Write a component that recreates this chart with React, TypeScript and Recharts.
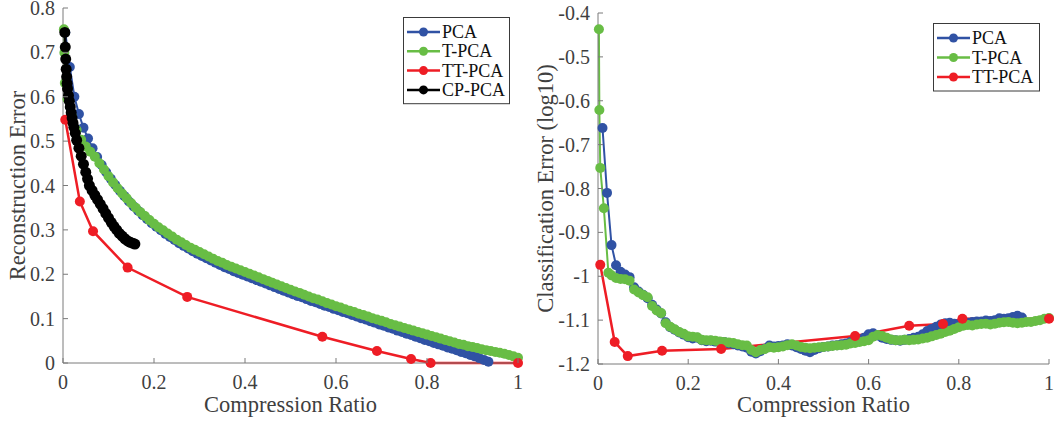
import React from 'react';
import { LineChart, Line, XAxis, YAxis } from 'recharts';

// ---------------- data: left panel (Reconstruction Error) ----------------
const pcaRatioL = [
  0.005, 0.015, 0.025, 0.035, 0.045, 0.055, 0.065, 0.075, 0.085, 0.095,
  0.105, 0.115, 0.125, 0.135, 0.145, 0.155, 0.165, 0.175, 0.185, 0.195,
  0.205, 0.215, 0.225, 0.235, 0.245, 0.255, 0.265, 0.275, 0.285, 0.295,
  0.305, 0.315, 0.325, 0.335, 0.345, 0.355, 0.365, 0.375, 0.385, 0.395,
  0.405, 0.415, 0.425, 0.435, 0.445, 0.455, 0.465, 0.475, 0.485, 0.495,
  0.505, 0.515, 0.525, 0.535, 0.545, 0.555, 0.565, 0.575, 0.585, 0.595,
  0.605, 0.615, 0.625, 0.635, 0.645, 0.655, 0.665, 0.675, 0.685, 0.695,
  0.705, 0.715, 0.725, 0.735, 0.745, 0.755, 0.765, 0.775, 0.785, 0.795,
  0.805, 0.815, 0.825, 0.835, 0.845, 0.855, 0.865, 0.875, 0.885, 0.895,
  0.905, 0.915, 0.925, 0.935,
];
const pcaErrL = [
  0.745, 0.667, 0.600, 0.561, 0.530, 0.506, 0.484, 0.464, 0.446, 0.430,
  0.415, 0.401, 0.388, 0.376, 0.364, 0.353, 0.343, 0.333, 0.324, 0.315,
  0.307, 0.299, 0.291, 0.284, 0.277, 0.270, 0.264, 0.258, 0.252, 0.246,
  0.241, 0.236, 0.231, 0.226, 0.221, 0.216, 0.212, 0.207, 0.203, 0.199,
  0.195, 0.191, 0.187, 0.183, 0.179, 0.175, 0.171, 0.167, 0.163, 0.159,
  0.155, 0.151, 0.148, 0.144, 0.140, 0.137, 0.133, 0.129, 0.126, 0.122,
  0.119, 0.115, 0.112, 0.108, 0.105, 0.101, 0.098, 0.094, 0.091, 0.087,
  0.084, 0.080, 0.077, 0.073, 0.070, 0.066, 0.063, 0.059, 0.056, 0.052,
  0.049, 0.045, 0.042, 0.039, 0.035, 0.032, 0.029, 0.025, 0.022, 0.018,
  0.015, 0.011, 0.007, 0.003,
];

const tpcaRatioL = [
  0.002, 0.003, 0.004,
  0.01, 0.02, 0.03, 0.04, 0.05, 0.06, 0.07, 0.08, 0.09, 0.10,
  0.11, 0.12, 0.13, 0.14, 0.15, 0.16, 0.17, 0.18, 0.19, 0.20,
  0.21, 0.22, 0.23, 0.24, 0.25, 0.26, 0.27, 0.28, 0.29, 0.30,
  0.31, 0.32, 0.33, 0.34, 0.35, 0.36, 0.37, 0.38, 0.39, 0.40,
  0.41, 0.42, 0.43, 0.44, 0.45, 0.46, 0.47, 0.48, 0.49, 0.50,
  0.51, 0.52, 0.53, 0.54, 0.55, 0.56, 0.57, 0.58, 0.59, 0.60,
  0.61, 0.62, 0.63, 0.64, 0.65, 0.66, 0.67, 0.68, 0.69, 0.70,
  0.71, 0.72, 0.73, 0.74, 0.75, 0.76, 0.77, 0.78, 0.79, 0.80,
  0.81, 0.82, 0.83, 0.84, 0.85, 0.86, 0.87, 0.88, 0.89, 0.90,
  0.91, 0.92, 0.93, 0.94, 0.95, 0.96, 0.97, 0.98, 0.99, 1.00,
];
const tpcaErrL = [
  0.752, 0.699, 0.631,
  0.595, 0.555, 0.525, 0.503, 0.488, 0.476, 0.465, 0.450, 0.436, 0.421,
  0.407, 0.394, 0.382, 0.371, 0.360, 0.350, 0.340, 0.331, 0.322, 0.314,
  0.306, 0.299, 0.292, 0.285, 0.278, 0.272, 0.266, 0.260, 0.255, 0.250,
  0.245, 0.240, 0.235, 0.230, 0.226, 0.221, 0.217, 0.213, 0.209, 0.205,
  0.201, 0.197, 0.193, 0.189, 0.185, 0.181, 0.177, 0.173, 0.169, 0.165,
  0.161, 0.158, 0.154, 0.150, 0.146, 0.143, 0.139, 0.135, 0.132, 0.128,
  0.125, 0.121, 0.118, 0.115, 0.111, 0.108, 0.105, 0.101, 0.098, 0.095,
  0.092, 0.088, 0.085, 0.082, 0.079, 0.076, 0.073, 0.070, 0.067, 0.064,
  0.061, 0.058, 0.055, 0.052, 0.049, 0.046, 0.043, 0.041, 0.038, 0.036,
  0.034, 0.031, 0.029, 0.027, 0.025, 0.023, 0.021, 0.018, 0.015, 0.012,
];

const ttpcaRatio = [0.005, 0.037, 0.066, 0.142, 0.273, 0.570, 0.690, 0.765, 0.808, 1.0];
const ttpcaErrL = [0.548, 0.364, 0.297, 0.215, 0.149, 0.059, 0.027, 0.009, 0.0, 0.0];

const cpRatioL = [
  0.004, 0.005, 0.006, 0.007, 0.008, 0.009, 0.010, 0.012, 0.014, 0.016,
  0.018, 0.020, 0.022, 0.024, 0.027, 0.030, 0.035, 0.040, 0.045, 0.050,
  0.054, 0.058, 0.064, 0.070, 0.076, 0.082, 0.088, 0.094, 0.100, 0.106,
  0.112, 0.118, 0.124, 0.130, 0.136, 0.142, 0.148, 0.153, 0.158,
];
const cpErrL = [
  0.745, 0.712, 0.685, 0.662, 0.645, 0.630, 0.618, 0.603, 0.590, 0.577,
  0.564, 0.552, 0.541, 0.531, 0.518, 0.502, 0.484, 0.466, 0.448, 0.430,
  0.415, 0.400, 0.389, 0.378, 0.368, 0.358, 0.348, 0.337, 0.327, 0.317,
  0.308, 0.300, 0.292, 0.286, 0.280, 0.275, 0.272, 0.270, 0.268,
];

// ---------------- data: right panel (Classification Error, log10) ----------------
const pcaRatioR = [
  0.01, 0.02, 0.03, 0.04, 0.05, 0.06, 0.07, 0.08, 0.09, 0.10,
  0.11, 0.12, 0.13, 0.14, 0.15, 0.16, 0.17, 0.18, 0.19, 0.20,
  0.21, 0.22, 0.23, 0.24, 0.25, 0.26, 0.27, 0.28, 0.29, 0.30,
  0.31, 0.32, 0.33, 0.34, 0.35, 0.36, 0.37, 0.38, 0.39, 0.40,
  0.41, 0.42, 0.43, 0.44, 0.45, 0.46, 0.47, 0.48, 0.49, 0.50,
  0.51, 0.52, 0.53, 0.54, 0.55, 0.56, 0.57, 0.58, 0.59, 0.60,
  0.61, 0.62, 0.63, 0.64, 0.65, 0.66, 0.67, 0.68, 0.69, 0.70,
  0.71, 0.72, 0.73, 0.74, 0.75, 0.76, 0.77, 0.78, 0.79, 0.80,
  0.81, 0.82, 0.83, 0.84, 0.85, 0.86, 0.87, 0.88, 0.89, 0.90,
  0.91, 0.92, 0.93, 0.94,
];
const pcaErrR = [
  -0.662, -0.810, -0.929, -0.975, -0.990, -0.996, -1.002, -1.025, -1.035, -1.042,
  -1.050, -1.065, -1.076, -1.085, -1.105, -1.116, -1.122, -1.128, -1.133, -1.139,
  -1.142, -1.140, -1.146, -1.148, -1.147, -1.149, -1.151, -1.150, -1.153, -1.155,
  -1.158, -1.160, -1.163, -1.172, -1.176, -1.171, -1.165, -1.158, -1.160, -1.159,
  -1.158, -1.155, -1.158, -1.162, -1.166, -1.170, -1.173, -1.168, -1.164, -1.161,
  -1.160, -1.158, -1.157, -1.155, -1.153, -1.150, -1.150, -1.146, -1.140, -1.132,
  -1.130, -1.135, -1.140, -1.143, -1.145, -1.146, -1.147, -1.145, -1.143, -1.140,
  -1.138, -1.132, -1.125, -1.120, -1.115, -1.110, -1.107, -1.106, -1.108, -1.110,
  -1.108, -1.106, -1.104, -1.103, -1.103, -1.101, -1.102, -1.100, -1.096, -1.097,
  -1.096, -1.093, -1.090, -1.094,
];

const tpcaRatioR = [
  0.002, 0.003, 0.005, 0.013, 0.023,
  0.03, 0.04, 0.05, 0.06, 0.07, 0.08, 0.09, 0.10,
  0.11, 0.12, 0.13, 0.14, 0.15, 0.16, 0.17, 0.18, 0.19, 0.20,
  0.21, 0.22, 0.23, 0.24, 0.25, 0.26, 0.27, 0.28, 0.29, 0.30,
  0.31, 0.32, 0.33, 0.34, 0.35, 0.36, 0.37, 0.38, 0.39, 0.40,
  0.41, 0.42, 0.43, 0.44, 0.45, 0.46, 0.47, 0.48, 0.49, 0.50,
  0.51, 0.52, 0.53, 0.54, 0.55, 0.56, 0.57, 0.58, 0.59, 0.60,
  0.61, 0.62, 0.63, 0.64, 0.65, 0.66, 0.67, 0.68, 0.69, 0.70,
  0.71, 0.72, 0.73, 0.74, 0.75, 0.76, 0.77, 0.78, 0.79, 0.80,
  0.81, 0.82, 0.83, 0.84, 0.85, 0.86, 0.87, 0.88, 0.89, 0.90,
  0.91, 0.92, 0.93, 0.94, 0.95, 0.96, 0.97, 0.98, 0.99, 1.00,
];
const tpcaErrR = [
  -0.437, -0.621, -0.753, -0.845, -0.992,
  -0.998, -1.004, -1.006, -1.007, -1.010, -1.030, -1.037, -1.043,
  -1.048, -1.068, -1.078, -1.084, -1.107, -1.115, -1.121, -1.127, -1.131, -1.137,
  -1.138, -1.139, -1.145, -1.146, -1.146, -1.147, -1.149, -1.150, -1.151, -1.152,
  -1.155, -1.157, -1.158, -1.168, -1.173, -1.168, -1.166, -1.162, -1.163, -1.162,
  -1.160, -1.157, -1.155, -1.158, -1.161, -1.163, -1.164, -1.163, -1.162, -1.161,
  -1.160, -1.159, -1.158, -1.157, -1.156, -1.153, -1.152, -1.150, -1.148, -1.146,
  -1.138, -1.134, -1.136, -1.140, -1.144, -1.146, -1.146, -1.145, -1.146, -1.145,
  -1.144, -1.142, -1.140, -1.137, -1.134, -1.131, -1.127, -1.124, -1.120, -1.116,
  -1.113, -1.111, -1.112, -1.110, -1.109, -1.108, -1.110, -1.108, -1.106, -1.105,
  -1.104, -1.106, -1.107, -1.106, -1.104, -1.104, -1.102, -1.100, -1.097, -1.095,
];

const ttpcaErrR = [-0.974, -1.150, -1.182, -1.170, -1.166, -1.136, -1.113, -1.109, -1.097, -1.097];

// ---------------- ticks / labels ----------------
const xTicks = [0, 0.2, 0.4, 0.6, 0.8, 1];
const yTicksL = [0, 0.1, 0.2, 0.3, 0.4, 0.5, 0.6, 0.7, 0.8];
const yTicksR = [-1.2, -1.1, -1, -0.9, -0.8, -0.7, -0.6, -0.5, -0.4];
const legendL = ['PCA', 'T-PCA', 'TT-PCA', 'CP-PCA'];
const legendR = ['PCA', 'T-PCA', 'TT-PCA'];

// ---------------- styles ----------------
const FONT = "'Liberation Serif', 'Times New Roman', Times, 'DejaVu Serif', serif";
const AXIS = '#7a7a7a';
const TEXT = '#3f3f3f';
const COLORS: Record<string, string> = {
  'PCA': '#3052a4',
  'T-PCA': '#68bd45',
  'TT-PCA': '#ee1d25',
  'CP-PCA': '#000000',
};
const TICK_MARGIN = 8;
const TICK_LEN = 5;
const txtStyle = { fontFamily: FONT };

const zip = (xs: number[], ys: number[]) => xs.map((x, i) => ({ x, y: ys[i] }));

const XTick = (props: any) => {
  const { x, y, payload } = props;
  const ay = y - TICK_MARGIN;
  return (
    <g>
      <line x1={x} x2={x} y1={ay} y2={ay - TICK_LEN} stroke={AXIS} strokeWidth={1} />
      <text x={x} y={y} dy={18} textAnchor="middle" fontSize={20} fill={TEXT} style={txtStyle}>
        {String(payload.value)}
      </text>
    </g>
  );
};

const YTick = (props: any) => {
  const { x, y, payload } = props;
  const ax = x + TICK_MARGIN;
  return (
    <g>
      <line x1={ax} x2={ax + TICK_LEN} y1={y} y2={y} stroke={AXIS} strokeWidth={1} />
      <text x={x} y={y} dy={7} textAnchor="end" fontSize={20} fill={TEXT} style={txtStyle}>
        {String(payload.value)}
      </text>
    </g>
  );
};

const series = (name: string, data: { x: number; y: number }[], r: number, w: number) => (
  <Line
    key={name}
    name={name}
    data={data}
    dataKey="y"
    type="linear"
    stroke={COLORS[name]}
    strokeWidth={w}
    dot={{ r, fill: COLORS[name], stroke: 'none' }}
    activeDot={false}
    isAnimationActive={false}
  />
);

const Legend = ({ items, left, top, rowGap }: { items: string[]; left: number; top: number; rowGap: number }) => {
  const h = items.length * rowGap + 9;
  return (
    <g>
      <rect x={left + 0.5} y={top + 0.5} width={106} height={h} fill="#fff" stroke="#3a3a3a" strokeWidth={1} />
      {items.map((name, i) => {
        const cy = top + 15 + i * rowGap;
        return (
          <g key={name}>
            <line x1={left + 4} x2={left + 37} y1={cy} y2={cy} stroke={COLORS[name]} strokeWidth={2.5} />
            <circle cx={left + 20.5} cy={cy} r={4.5} fill={COLORS[name]} />
            <text x={left + 39} y={cy + 6} fontSize={18} fill="#111" style={txtStyle}>
              {name}
            </text>
          </g>
        );
      })}
    </g>
  );
};

export default function App() {
  return (
    <div style={{ position: 'absolute', left: 0, top: 0, width: 1057, height: 423, background: '#fff', fontFamily: FONT }}>
      <div style={{ position: 'absolute', left: 0, top: 0 }}>
        <LineChart width={530} height={423} margin={{ top: 8, right: 12, bottom: 0, left: 0 }} style={txtStyle}>
          <XAxis
            dataKey="x"
            type="number"
            domain={[0, 1]}
            ticks={xTicks}
            interval={0}
            height={60}
            tickSize={0}
            tickMargin={TICK_MARGIN}
            tickLine={false}
            axisLine={{ stroke: AXIS, strokeWidth: 1 }}
            tick={XTick}
          />
          <YAxis
            type="number"
            domain={[0, 0.8]}
            ticks={yTicksL}
            interval={0}
            width={63}
            tickSize={0}
            tickMargin={TICK_MARGIN}
            tickLine={false}
            axisLine={{ stroke: AXIS, strokeWidth: 1 }}
            tick={YTick}
          />
          {series('PCA', zip(pcaRatioL, pcaErrL), 5, 2)}
          {series('T-PCA', zip(tpcaRatioL, tpcaErrL), 5, 2)}
          {series('TT-PCA', zip(ttpcaRatio, ttpcaErrL), 5, 2.5)}
          {series('CP-PCA', zip(cpRatioL, cpErrL), 5.5, 3)}
        </LineChart>
      </div>
      <div style={{ position: 'absolute', left: 530, top: 0 }}>
        <LineChart width={527} height={423} margin={{ top: 13, right: 8, bottom: 0, left: 0 }} style={txtStyle}>
          <XAxis
            dataKey="x"
            type="number"
            domain={[0, 1]}
            ticks={xTicks}
            interval={0}
            height={59}
            tickSize={0}
            tickMargin={TICK_MARGIN}
            tickLine={false}
            axisLine={{ stroke: AXIS, strokeWidth: 1 }}
            tick={XTick}
          />
          <YAxis
            type="number"
            domain={[-1.2, -0.4]}
            ticks={yTicksR}
            interval={0}
            width={68}
            tickSize={0}
            tickMargin={TICK_MARGIN}
            tickLine={false}
            axisLine={{ stroke: AXIS, strokeWidth: 1 }}
            tick={YTick}
          />
          {series('PCA', zip(pcaRatioR, pcaErrR), 5, 2)}
          {series('T-PCA', zip(tpcaRatioR, tpcaErrR), 5, 2)}
          {series('TT-PCA', zip(ttpcaRatio, ttpcaErrR), 5, 2.5)}
        </LineChart>
      </div>
      <svg
        width={1057}
        height={423}
        style={{ position: 'absolute', left: 0, top: 0, pointerEvents: 'none' }}
      >
        <text x={290.5} y={412} textAnchor="middle" fontSize={22.5} fill={TEXT} style={txtStyle}>
          Compression Ratio
        </text>
        <text
          x={25}
          y={185.5}
          textAnchor="middle"
          fontSize={22.5}
          fill={TEXT}
          style={txtStyle}
          transform="rotate(-90, 25, 185.5)"
        >
          Reconstruction Error
        </text>
        <text x={823.5} y={412} textAnchor="middle" fontSize={22.5} fill={TEXT} style={txtStyle}>
          Compression Ratio
        </text>
        <text
          x={553}
          y={188.5}
          textAnchor="middle"
          fontSize={22.5}
          fill={TEXT}
          style={txtStyle}
          transform="rotate(-90, 553, 188.5)"
        >
          Classification Error (log10)
        </text>
        <Legend items={legendL} left={403} top={17} rowGap={19.3} />
        <Legend items={legendR} left={933} top={23} rowGap={19.5} />
      </svg>
    </div>
  );
}
